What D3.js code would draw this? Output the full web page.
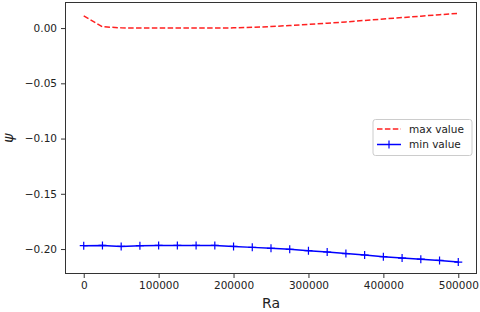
<!DOCTYPE html>
<html>
<head>
<meta charset="utf-8">
<script src="https://cdn.jsdelivr.net/npm/d3@7"></script>
<style>
  body { margin: 0; background: #fff; }
  svg text { font-family: "DejaVu Sans", sans-serif; fill: #222; }
</style>
</head>
<body>
<svg id="chart" width="480" height="312"></svg>
<script>
// valores
const RA = [0, 25000, 50000, 75000, 100000, 125000, 150000, 175000, 200000, 225000,
            250000, 275000, 300000, 325000, 350000, 375000, 400000, 425000, 450000, 475000, 500000];
const MAX_VALUE = [0.0111, 0.0012, 0.0002, 0.0, 0.0, 0.0, 0.0, 0.0, 0.0002, 0.0007,
                   0.0014, 0.0023, 0.0033, 0.0044, 0.0056, 0.0069, 0.0082, 0.0095, 0.0108, 0.0121, 0.0133];
const MIN_VALUE = [-0.197, -0.1967, -0.1976, -0.1970, -0.1967, -0.1967, -0.1967, -0.1967, -0.1976, -0.1985,
                   -0.1994, -0.2003, -0.2015, -0.2027, -0.2041, -0.2054, -0.2069, -0.2082, -0.2092, -0.2103, -0.2118];
const X_TICKS = [0, 100000, 200000, 300000, 400000, 500000];
const Y_TICKS = [0.00, -0.05, -0.10, -0.15, -0.20];
const LEGENDA = ['max value', 'min value'];

const MARGEM = { top: 2, right: 3, bottom: 38, left: 65 };
const W = 480, H = 312;

const $svg = d3.select('#chart');

const x = d3.scaleLinear().domain([-25000, 525000]).range([MARGEM.left, W - MARGEM.right]);
const y = d3.scaleLinear().domain([-0.2226, 0.0236]).range([H - MARGEM.bottom, MARGEM.top]);

// eixos
const eixoX = d3.axisBottom(x).tickValues(X_TICKS).tickFormat(d3.format('d')).tickSize(4).tickPadding(4);
const eixoY = d3.axisLeft(y).tickValues(Y_TICKS)
  .tickFormat(d => d3.format('.2f')(d).replace('-', '\u2212')).tickSize(4).tickPadding(4);

const $gx = $svg.append('g').attr('transform', `translate(0,${H - MARGEM.bottom})`).call(eixoX);
const $gy = $svg.append('g').attr('transform', `translate(${MARGEM.left},0)`).call(eixoY);
[$gx, $gy].forEach($g => {
  $g.select('.domain').remove();
  $g.selectAll('.tick line').attr('stroke', '#333');
  $g.selectAll('.tick text').attr('font-size', 10.5).attr('fill', '#222');
});

// moldura
$svg.append('rect')
  .attr('x', MARGEM.left + 0.5).attr('y', MARGEM.top + 0.5)
  .attr('width', W - MARGEM.left - MARGEM.right - 1)
  .attr('height', H - MARGEM.top - MARGEM.bottom - 1)
  .attr('fill', 'none').attr('stroke', '#333').attr('stroke-width', 1);

// linhas
const linha = vals => d3.line().x((d, i) => x(RA[i])).y(d => y(d))(vals);

$svg.append('path')
  .attr('d', linha(MAX_VALUE))
  .attr('fill', 'none').attr('stroke', '#ff2020').attr('stroke-width', 1.5)
  .attr('stroke-dasharray', '5.5,2.4');

$svg.append('path')
  .attr('d', linha(MIN_VALUE))
  .attr('fill', 'none').attr('stroke', '#0000ff').attr('stroke-width', 1.5);

const MARK = 4;
$svg.append('g').selectAll('path')
  .data(MIN_VALUE)
  .enter()
  .append('path')
  .attr('d', (d, i) => {
    const cx = x(RA[i]), cy = y(d);
    return `M${cx - MARK},${cy}H${cx + MARK}M${cx},${cy - MARK}V${cy + MARK}`;
  })
  .attr('stroke', '#0000ff').attr('stroke-width', 1.2);

// rótulos dos eixos
$svg.append('text')
  .attr('x', (MARGEM.left + W - MARGEM.right) / 2).attr('y', 308)
  .attr('text-anchor', 'middle').attr('font-size', 14)
  .text('Ra');

$svg.append('text')
  .attr('transform', `translate(13,${(MARGEM.top + H - MARGEM.bottom) / 2}) rotate(-90)`)
  .attr('text-anchor', 'middle').attr('font-size', 14)
  .attr('font-style', 'italic')
  .text('\u03c8');

// legenda
const $leg = $svg.append('g').attr('transform', 'translate(373,119.5)');
$leg.append('rect')
  .attr('width', 99).attr('height', 36).attr('rx', 2.5)
  .attr('fill', '#fff').attr('fill-opacity', 0.8)
  .attr('stroke', '#ccc').attr('stroke-width', 1);

$leg.selectAll('g.item')
  .data(LEGENDA)
  .enter()
  .append('g')
  .attr('class', 'item')
  .attr('transform', (d, i) => `translate(0,${9.5 + i * 15.5})`)
  .each(function(d, i) {
    const $it = d3.select(this);
    const cor = i === 0 ? '#ff2020' : '#0000ff';
    $it.append('line')
      .attr('x1', 4).attr('x2', 28).attr('y1', 0).attr('y2', 0)
      .attr('stroke', cor).attr('stroke-width', 1.5)
      .attr('stroke-dasharray', i === 0 ? '5.5,2.4' : null);
    if (i === 1) {
      $it.append('path').attr('d', `M${16 - MARK},0H${16 + MARK}M16,${-MARK}V${MARK}`)
        .attr('stroke', cor).attr('stroke-width', 1.2);
    }
    $it.append('text')
      .attr('x', 36).attr('y', 0).attr('dy', '0.35em')
      .attr('font-size', 10.5)
      .text(d);
  });
</script>
</body>
</html>
